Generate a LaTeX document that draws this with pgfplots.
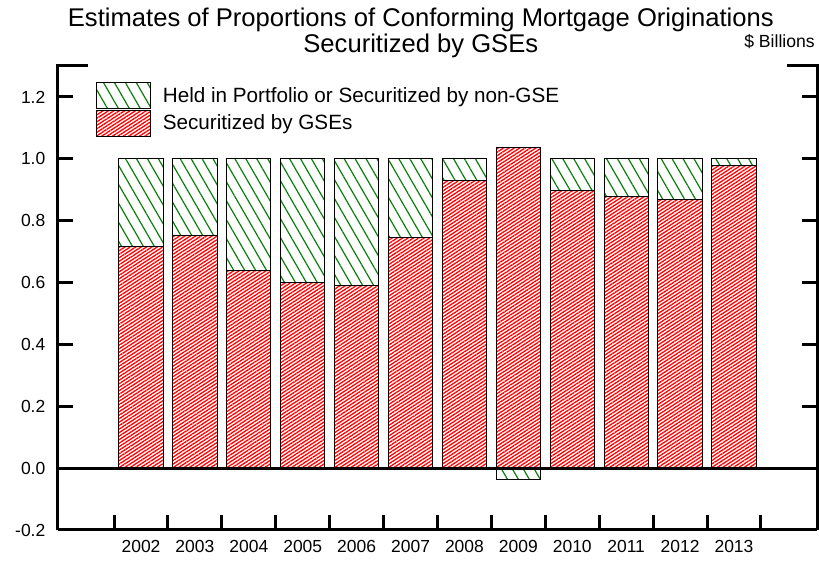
\documentclass[border=0pt]{standalone}
\usepackage{fontspec}
\setmainfont{Liberation Sans}
\usepackage{pgfplots}
\pgfplotsset{compat=1.18}
\usetikzlibrary{patterns.meta}
\definecolor{pgreen}{RGB}{10,128,10}
\definecolor{pred}{RGB}{255,0,0}
\pgfplotsset{boxlegend/.style={legend image code/.code={\draw[##1] (0pt,-9.75pt) rectangle (40.5pt,9.75pt);}}}

\pgfplotstableread{
x held
0 1.0
1 1.0
2 1.0
3 1.0
4 1.0
5 1.0
6 1.0
7 -0.036
8 1.0
9 1.0
10 1.0
11 1.0
}\heldtable

\pgfplotstableread{
x gse
0 0.717
1 0.753
2 0.640
3 0.600
4 0.589
5 0.747
6 0.930
7 1.036
8 0.896
9 0.877
10 0.870
11 0.978
}\gsetable

\begin{document}
\begin{tikzpicture}
\begin{axis}[
  scale only axis,
  width=569.25pt, height=348pt,
  xmin=-1.54, xmax=12.54,
  ymin=-0.2, ymax=1.3,
  ybar, bar width=0.82,
  clip=false,
  axis line style={draw=none},
  xtick={-0.5,0.5,1.5,2.5,3.5,4.5,5.5,6.5,7.5,8.5,9.5,10.5,11.5},
  x tick label as interval,
  xticklabels={2002,2003,2004,2005,2006,2007,2008,2009,2010,2011,2012,2013},
  xtick pos=bottom,
  ytick={-0.2,0,0.2,0.4,0.6,0.8,1.0,1.2},
  yticklabels={-0.2,0.0,0.2,0.4,0.6,0.8,1.0,1.2},
  ytick pos=both,
  yticklabel pos=left,
  tick align=inside,
  major tick length=11pt,
  every tick/.style={black, line width=2.25pt},
  ticklabel style={font=\fontsize{13.1}{15}\selectfont},
  yticklabel style={xshift=-6pt},
  xticklabel style={yshift=-4pt},
  legend style={draw=none, fill=none, at={(0.05,0.9655)}, anchor=north west,
    font=\fontsize{15.5}{18}\selectfont, inner sep=0pt, row sep=0.5pt, column sep=6.75pt,
    legend cell align=left},
]
\addplot[bar shift=0pt, draw=black, line width=0.75pt,
  preaction={fill=white},
  pattern={Lines[angle=-60, distance=7.1pt, line width=0.9pt]}, pattern color=pgreen,
  boxlegend]
  table[x=x, y=held] {\heldtable};
\addlegendentry{Held in Portfolio or Securitized by non-GSE}
\addplot[bar shift=0pt, draw=black, line width=0.75pt,
  preaction={fill=white},
  pattern={Lines[angle=33, distance=2.2pt, line width=1pt]}, pattern color=pred,
  boxlegend]
  table[x=x, y=gse] {\gsetable};
\addlegendentry{Securitized by GSEs}

\draw[line width=2.25pt] (axis cs:-1.54,0) -- (axis cs:12.54,0);
\draw[line width=2.25pt] (rel axis cs:0,0) -- (rel axis cs:1,0);
\draw[line width=2.25pt] ([xshift=22.5pt]rel axis cs:0,1) -- (rel axis cs:0,1) -- (rel axis cs:0,0);
\draw[line width=2.25pt] ([xshift=-22.5pt]rel axis cs:1,1) -- (rel axis cs:1,1) -- (rel axis cs:1,0);

\node[anchor=base, inner sep=0pt, font=\fontsize{19.2}{22}\selectfont] at ([yshift=29.25pt]rel axis cs:0.478,1) {Estimates of Proportions of Conforming Mortgage Originations};
\node[anchor=base, inner sep=0pt, font=\fontsize{19.2}{22}\selectfont] at ([yshift=9.75pt]rel axis cs:0.478,1) {Securitized by GSEs};
\node[anchor=base east, inner sep=0pt, font=\fontsize{13.2}{15}\selectfont] at ([yshift=13.5pt, xshift=-1.5pt]rel axis cs:1,1) {\$ Billions};
\end{axis}
\pgfresetboundingbox
\path (current axis.south west) ++(-43.5pt,-27pt) rectangle ++(614.25pt,424.5pt);
\end{tikzpicture}
\end{document}
